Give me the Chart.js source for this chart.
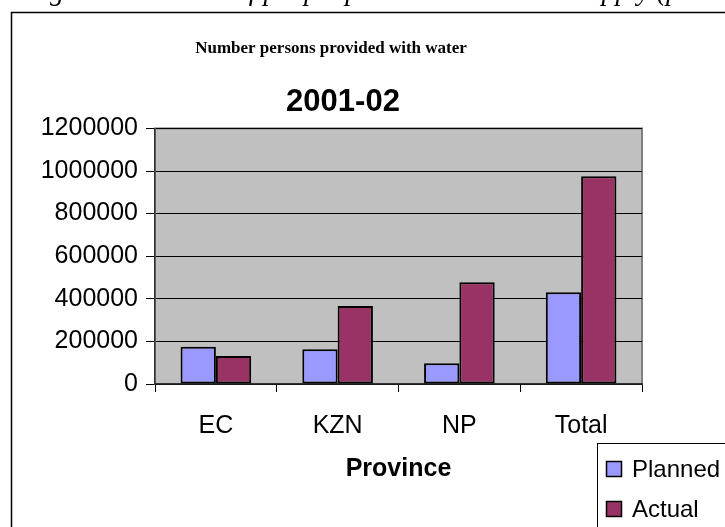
<!DOCTYPE html>
<html>
<head>
<meta charset="utf-8">
<script src="https://cdn.jsdelivr.net/npm/chart.js@4/dist/chart.umd.min.js"></script>
<style>
  html, body { margin: 0; padding: 0; background: #fff; }
  #wrap { width: 725px; height: 527px; }
</style>
</head>
<body>
<div id="wrap"><canvas id="chart" width="725" height="527"></canvas></div>
<script>
// data
const provinces = ['EC', 'KZN', 'NP', 'Total'];
const planned = [175000, 163000, 98000, 431000];
const actual = [131000, 366000, 478000, 975000];
const yMax = 1200000;
const yStep = 200000;

const caption = 'Figure 3: Number of people provided with water supply (planned vs actual)';
const yearLabel = '2001-02';

// grey plot area, page border, cut caption, year label and the boxed legend
const excelLook = {
  id: 'excelLook',
  beforeDraw(c) {
    const a = c.chartArea, ctx = c.ctx;
    ctx.save();
    ctx.fillStyle = '#c0c0c0';
    ctx.fillRect(a.left, a.top, a.right - a.left, a.bottom - a.top);
    ctx.strokeStyle = '#808080';
    ctx.lineWidth = 2;
    ctx.strokeRect(a.left, a.top, a.right - a.left, a.bottom - a.top);
    ctx.restore();
  },
  afterDraw(c) {
    const ctx = c.ctx;
    ctx.save();
    // caption of the document, mostly above the picture
    ctx.fillStyle = '#000';
    ctx.font = 'italic 28px "Liberation Serif"';
    ctx.textBaseline = 'alphabetic';
    ctx.fillText(caption, 25, 0);
    // year, sits a bit right of the main title
    ctx.font = 'bold 31px "Liberation Sans"';
    ctx.textAlign = 'center';
    ctx.fillText(yearLabel, 343, 111);
    ctx.textAlign = 'left';
    // frame of the chart object
    ctx.strokeStyle = '#000';
    ctx.lineWidth = 1.5;
    ctx.strokeRect(11.5, 12.5, 800, 600);
    // legend
    ctx.lineWidth = 1;
    ctx.strokeStyle = '#000';
    ctx.strokeRect(597.5, 443.5, 200, 200);
    ctx.font = '24px "Liberation Sans"';
    c.data.datasets.forEach((ds, i) => {
      const y = 461 + i * 40;
      ctx.fillStyle = ds.backgroundColor;
      ctx.fillRect(606, y, 16, 16);
      ctx.strokeStyle = '#000';
      ctx.lineWidth = 1.5;
      ctx.strokeRect(606.5, y + 0.5, 15, 15);
      ctx.fillStyle = '#000';
      ctx.fillText(ds.label, 632, y + 16);
    });
    ctx.restore();
  }
};

const ctx = document.getElementById('chart').getContext('2d');
const chart = new Chart(ctx, {
  type: 'bar',
  data: {
    labels: provinces,
    datasets: [
      {
        label: 'Planned',
        data: planned,
        backgroundColor: '#9999ff',
        borderColor: '#000',
        borderWidth: 2,
        borderSkipped: false
      },
      {
        label: 'Actual',
        data: actual,
        backgroundColor: '#993366',
        borderColor: '#000',
        borderWidth: 2,
        borderSkipped: false
      }
    ]
  },
  options: {
    responsive: false,
    animation: false,
    layout: { padding: { left: 20, right: 83, top: 0, bottom: 0 } },
    datasets: { bar: { categoryPercentage: 0.58, barPercentage: 1 } },
    plugins: {
      legend: { display: false },
      tooltip: { enabled: false },
      title: {
        display: true,
        text: 'Number persons provided with water',
        color: '#000',
        font: { family: '"Liberation Serif"', size: 17, weight: 'bold' },
        padding: { top: 38, bottom: 70 }
      }
    },
    scales: {
      x: {
        grid: { display: true, drawOnChartArea: false, offset: true, tickLength: 8, color: '#000', tickColor: '#000' },
        border: { color: '#333', width: 1.5 },
        ticks: { color: '#000', padding: 19, font: { family: '"Liberation Sans"', size: 25 } },
        title: {
          display: true,
          text: 'Province',
          color: '#000',
          font: { family: '"Liberation Sans"', size: 25, weight: 'bold' },
          padding: { top: 0, bottom: 43 }
        },
        afterFit(s) { s.height = 143; }
      },
      y: {
        min: 0,
        max: yMax,
        grid: { color: '#000', tickLength: 9, tickColor: '#000', lineWidth: 1 },
        border: { color: '#333', width: 1.5 },
        ticks: {
          stepSize: yStep,
          color: '#000',
          padding: 8,
          font: { family: '"Liberation Sans"', size: 25 },
          callback: v => String(v)
        },
        afterFit(s) { s.width = 135; }
      }
    }
  },
  plugins: [excelLook]
});
</script>
</body>
</html>
